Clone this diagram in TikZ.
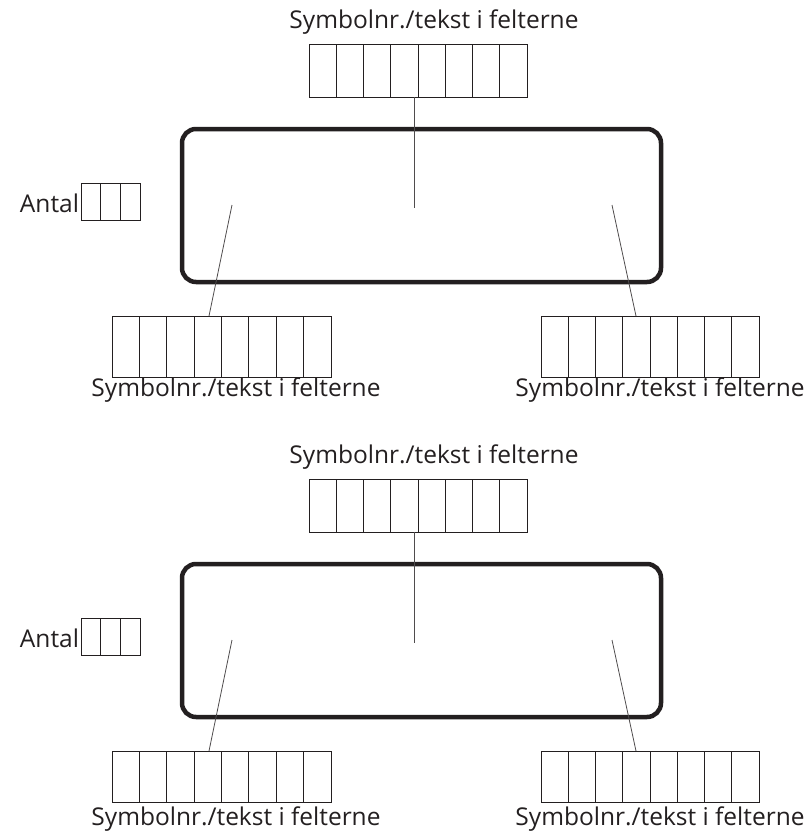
\documentclass[tikz,border=0pt]{standalone}
\usepackage{fontspec}
\setmainfont{Open Sans}
\usetikzlibrary{calc}
\definecolor{ink}{HTML}{231F20}
\newcommand\mycells[2]{%
  \pgfmathtruncatemacro\last{#2-1}%
  \foreach \i in {1,...,\last}{%
    \draw[cellline] ($(#1.north west)!\i/#2!(#1.north east)$) -- ($(#1.south west)!\i/#2!(#1.south east)$);
  }%
}
\tikzset{
  rowbox/.style={draw=ink, line width=0.9pt, inner sep=0pt, outer sep=0pt, fill=white},
  cellline/.style={draw=ink, line width=0.9pt},
  panel/.style={draw=ink, line width=4.5pt, rounded corners=14pt, inner sep=0pt, outer sep=0pt},
  lead/.style={draw=ink!80, line width=0.8pt},
  lbl/.style={inner sep=0pt, outer sep=0pt, anchor=base, text=ink, font=\fontsize{24.5}{29}\selectfont},
}
\begin{document}
\begin{tikzpicture}[x=1pt,y=-1pt]
\useasboundingbox (0,0) rectangle (809,833);
\foreach \dy/\hb/\tb/\p in {0/61/396/a,435/51/825/b}{
  % rounded panel
  \node[panel, minimum width=479pt, minimum height=153pt] (panel\p) at (421.5,205.5+\dy) {};
  % top row
  \node[rowbox, minimum width=218pt, minimum height=53pt] (top\p) at (418,70.5+\dy) {};
  \mycells{top\p}{8}
  \node[lbl] (toptext\p) at (434,28+\dy) {Symbolnr./tekst i felterne};
  % antal
  \node[rowbox, minimum width=59pt, minimum height=37pt] (antal\p) at (110.5,201.5+\dy) {};
  \mycells{antal\p}{3}
  \node[lbl, anchor=base east] (antaltext\p) at (79,212+\dy) {Antal};
  % bottom rows
  \node[rowbox, minimum width=219pt, minimum height=\hb pt, anchor=north] (left\p) at (221.5,316+\dy) {};
  \mycells{left\p}{8}
  \node[rowbox, minimum width=218pt, minimum height=\hb pt, anchor=north] (right\p) at (650,316+\dy) {};
  \mycells{right\p}{8}
  \node[lbl] (lefttext\p) at (236,\tb) {Symbolnr./tekst i felterne};
  \node[lbl] (righttext\p) at (660,\tb) {Symbolnr./tekst i felterne};
  % leader end points inside the panel
  \coordinate (cm\p) at (414.5,208+\dy);
  \coordinate (cl\p) at (232,205+\dy);
  \coordinate (cr\p) at (612,205+\dy);
  \draw[lead] (top\p.south -| cm\p) -- (cm\p);
  \draw[lead] (cl\p) -- (left\p.north -| 209,0);
  \draw[lead] (cr\p) -- (right\p.north -| 636,0);
}
\end{tikzpicture}
\end{document}
